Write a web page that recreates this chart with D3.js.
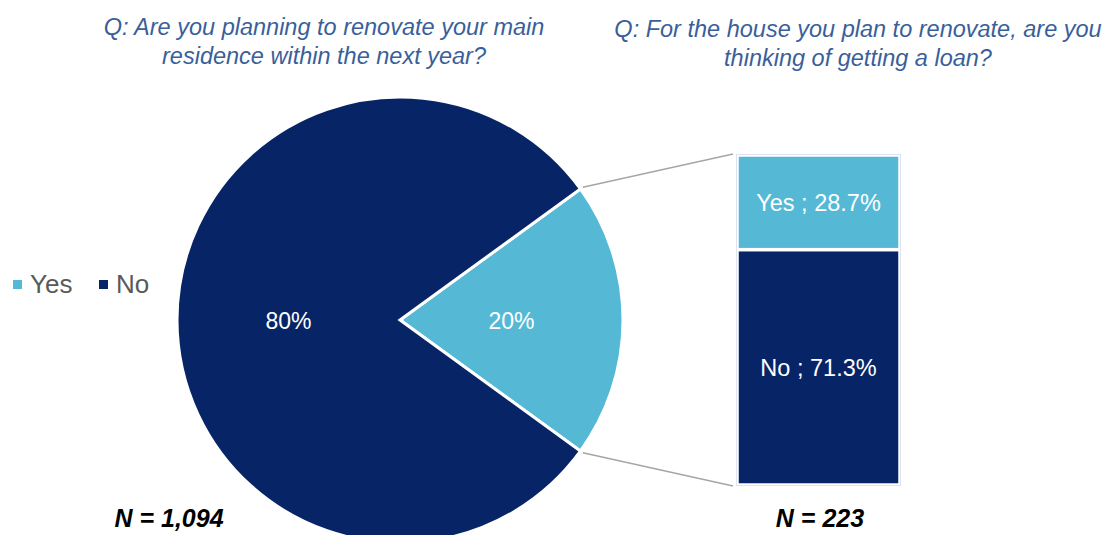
<!DOCTYPE html>
<html>
<head>
<meta charset="utf-8">
<script src="https://cdn.jsdelivr.net/npm/d3@7"></script>
<style>
  html, body { margin: 0; padding: 0; background: #fff; }
  svg { display: block; font-family: "Liberation Sans", Arial, sans-serif; }
</style>
</head>
<body>
<svg id="chart" width="1113" height="535"></svg>
<script>
// Survey answers: renovation plans (pie) and loan intention among those renovating (stacked bar)
const pieCategories = ["Yes", "No"];
const pieValues = [20, 80];
const pieLabels = ["20%", "80%"];

const barCategories = ["Yes", "No"];
const barValues = [28.7, 71.3];
const barLabels = ["Yes ; 28.7%", "No ; 71.3%"];

const titles = [
  ["Q: Are you planning to renovate your main", "residence within the next year?"],
  ["Q: For the house you plan to renovate, are you", "thinking of getting a loan?"]
];
const sampleSizes = ["N = 1,094", "N = 223"];

const colors = { Yes: "#55b9d6", No: "#072566" };

const svg = d3.select("#chart");

// ---- Pie ----
const cx = 400, cy = 320, r = 223;
const startA = 54 * Math.PI / 180;
const pie = d3.pie().sort(null).value(d => d.v)
  .startAngle(startA).endAngle(startA + 2 * Math.PI);
const pieData = pie(pieCategories.map((c, i) => ({ c, v: pieValues[i], label: pieLabels[i] })));
const arc = d3.arc().innerRadius(0).outerRadius(r);

const gPie = svg.append("g").attr("transform", `translate(${cx},${cy})`);
gPie.selectAll("path").data(pieData).join("path")
  .attr("d", arc)
  .attr("fill", d => colors[d.data.c])
  .attr("stroke", "#fff")
  .attr("stroke-width", 3)
  .attr("stroke-linejoin", "miter");

gPie.selectAll("text").data(pieData).join("text")
  .attr("x", d => arc.centroid(d)[0])
  .attr("y", d => arc.centroid(d)[1] + 1)
  .attr("text-anchor", "middle")
  .attr("dominant-baseline", "central")
  .attr("fill", "#fff")
  .attr("font-size", 23)
  .text(d => d.data.label);

// ---- Stacked bar ----
const barX0 = 737, barX1 = 900;
const y = d3.scaleLinear().domain([0, 100]).range([155, 485]);
let acc = 0;
const barData = barCategories.map((c, i) => {
  const d = { c, v: barValues[i], label: barLabels[i], y0: acc, y1: acc + barValues[i] };
  acc += barValues[i];
  return d;
});

const gBar = svg.append("g");
gBar.selectAll("rect").data(barData).join("rect")
  .attr("x", barX0)
  .attr("width", barX1 - barX0)
  .attr("y", d => y(d.y0))
  .attr("height", d => y(d.y1) - y(d.y0))
  .attr("fill", d => colors[d.c])
  .attr("stroke", "#fff")
  .attr("stroke-width", 3.5);

gBar.append("rect")
  .attr("x", barX0 - 0.5).attr("y", y(0) - 0.5)
  .attr("width", barX1 - barX0 + 1).attr("height", y(100) - y(0) + 1)
  .attr("fill", "none").attr("stroke", "#dde3f0").attr("stroke-width", 1);

gBar.selectAll("text").data(barData).join("text")
  .attr("x", (barX0 + barX1) / 2)
  .attr("y", d => y((d.y0 + d.y1) / 2) + 1)
  .attr("text-anchor", "middle")
  .attr("dominant-baseline", "central")
  .attr("fill", "#fff")
  .attr("font-size", 23.5)
  .text(d => d.label);

// ---- Connector lines from the Yes slice to the bar ----
const yesSlice = pieData[0];
const pt = a => [cx + (r + 3) * Math.sin(a), cy - (r + 3) * Math.cos(a)];
const p0 = pt(yesSlice.startAngle), p1 = pt(yesSlice.endAngle);
svg.append("line")
  .attr("x1", p0[0]).attr("y1", p0[1]).attr("x2", barX0 - 4).attr("y2", y(0) - 1)
  .attr("stroke", "#a6a6a6").attr("stroke-width", 1.5);
svg.append("line")
  .attr("x1", p1[0]).attr("y1", p1[1]).attr("x2", barX0 - 4).attr("y2", y(100) + 1)
  .attr("stroke", "#a6a6a6").attr("stroke-width", 1.5);

// ---- Titles ----
const titlePos = [{ x: 324, y: 35 }, { x: 858, y: 37 }];
titles.forEach((lines, i) => {
  const t = svg.append("text")
    .attr("text-anchor", "middle")
    .attr("font-style", "italic")
    .attr("font-size", 23.5)
    .attr("fill", "#3a5f9a");
  lines.forEach((line, j) => {
    t.append("tspan").attr("x", titlePos[i].x).attr("y", titlePos[i].y + j * 29).text(line);
  });
});

// ---- Legend ----
const legendItems = [{ c: "Yes", x: 13 }, { c: "No", x: 99 }];
const gLeg = svg.append("g");
legendItems.forEach(d => {
  gLeg.append("rect").attr("x", d.x).attr("y", 280).attr("width", 9).attr("height", 9)
    .attr("fill", colors[d.c]);
  gLeg.append("text").attr("x", d.x + 17).attr("y", 293)
    .attr("font-size", 26).attr("fill", "#595959").text(d.c);
});

// ---- Sample sizes ----
const nPos = [169, 820];
sampleSizes.forEach((s, i) => {
  svg.append("text")
    .attr("x", nPos[i]).attr("y", 527)
    .attr("text-anchor", "middle")
    .attr("font-weight", "bold")
    .attr("font-style", "italic")
    .attr("font-size", 25)
    .attr("fill", "#000")
    .text(s);
});
</script>
</body>
</html>
